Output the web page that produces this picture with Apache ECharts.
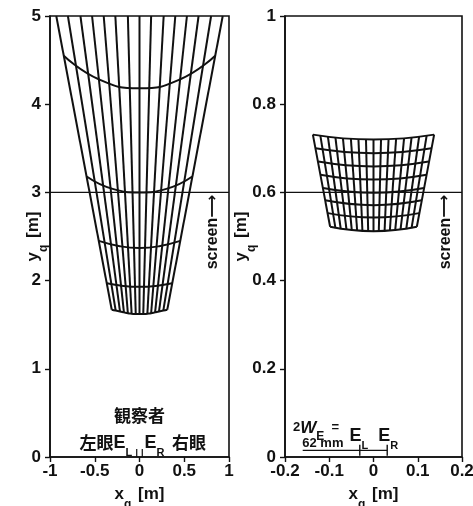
<!DOCTYPE html>
<html>
<head>
<meta charset="utf-8">
<script src="https://cdn.jsdelivr.net/npm/echarts@6.0.0/dist/echarts.min.js"></script>
<style>
  html, body { margin: 0; padding: 0; background: #fff; }
  #main { width: 473px; height: 506px; }
</style>
</head>
<body>
<div id="main"></div>
<script>
// ---- left panel (x: -1..1, y: 0..5) ----
// rays of the perceived grid: top end at y = 5, bottom end on the lowest row
const leftRayTopX = [-0.93, -0.80, -0.66, -0.53, -0.40, -0.27, -0.13, 0, 0.13, 0.27, 0.40, 0.53, 0.66, 0.80, 0.93];
const leftRayBottomX = [-0.31, -0.266, -0.218, -0.174, -0.13, -0.088, -0.042, 0, 0.042, 0.088, 0.13, 0.174, 0.218, 0.266, 0.31];
const leftRayBottomY = [1.67, 1.66, 1.65, 1.64, 1.63, 1.625, 1.62, 1.62, 1.62, 1.625, 1.63, 1.64, 1.65, 1.66, 1.67];
// rows (curved depth levels), points read left to right
const leftRows = [
  [[-0.846, 4.55], [-0.45, 4.28], [0, 4.18], [0.45, 4.28], [0.846, 4.55]],
  [[-0.59, 3.18], [-0.30, 3.04], [0, 3.0], [0.30, 3.04], [0.59, 3.18]],
  [[-0.455, 2.45], [-0.22, 2.39], [0, 2.37], [0.22, 2.39], [0.455, 2.45]],
  [[-0.366, 1.97], [-0.18, 1.94], [0, 1.93], [0.18, 1.94], [0.366, 1.97]]
];
const leftScreenY = 3;

// ---- right panel (x: -0.2..0.2, y: 0..1) ----
const rightRayTopX = [-0.137, -0.120, -0.103, -0.086, -0.069, -0.051, -0.034, -0.017, 0, 0.017, 0.034, 0.051, 0.069, 0.086, 0.103, 0.120, 0.137];
const rightRayTopY = [0.731, 0.728, 0.726, 0.724, 0.722, 0.721, 0.720, 0.720, 0.720, 0.720, 0.720, 0.721, 0.722, 0.724, 0.726, 0.728, 0.731];
const rightRayBottomX = [-0.098, -0.086, -0.074, -0.061, -0.049, -0.037, -0.025, -0.012, 0, 0.012, 0.025, 0.037, 0.049, 0.061, 0.074, 0.086, 0.098];
const rightRayBottomY = [0.522, 0.519, 0.517, 0.515, 0.514, 0.513, 0.512, 0.512, 0.512, 0.512, 0.512, 0.513, 0.514, 0.515, 0.517, 0.519, 0.522];
const rightRowEdgeX = [0.137, 0.131, 0.125, 0.120, 0.114, 0.109, 0.103, 0.098];
const rightRowEdgeY = [0.731, 0.700, 0.670, 0.640, 0.610, 0.582, 0.553, 0.522];
const rightRowCenterY = [0.720, 0.689, 0.659, 0.629, 0.599, 0.571, 0.543, 0.512];
const rightScreenY = 0.6;

// eyes (half of 2W_E = 62 mm)
const eyeX = [-0.031, 0.031];
const dimLineX = [-0.16, 0.031];
const dimLineY = 0.015;

const FONT = 'Liberation Sans, Arial, sans-serif';
const CJK = 'Noto Sans CJK JP, sans-serif';
const INK = '#111';

const chart = echarts.init(document.getElementById('main'), null, { renderer: 'canvas' });

function seg(grid, data, width, smooth) {
  return {
    type: 'line', xAxisIndex: grid, yAxisIndex: grid, data: data,
    showSymbol: false, symbol: 'none', silent: true, animation: false,
    smooth: smooth || false, clip: true,
    lineStyle: { color: INK, width: width }
  };
}

const series = [];
// left rays
leftRayTopX.forEach((xt, i) => {
  series.push(seg(0, [[leftRayBottomX[i], leftRayBottomY[i]], [xt, 5]], 2));
});
// left rows
leftRows.forEach(r => series.push(seg(0, r, 2, 0.5)));
series.push(seg(0, leftRayBottomX.map((x, i) => [x, leftRayBottomY[i]]), 2, 0.5));
// screen line
series.push(seg(0, [[-1, leftScreenY], [1, leftScreenY]], 1.3));
// eye marks (left)
eyeX.forEach(x => series.push(seg(0, [[x, 0], [x, 0.09]], 1.2)));

// right rays
rightRayTopX.forEach((xt, i) => {
  series.push(seg(1, [[rightRayBottomX[i], rightRayBottomY[i]], [xt, rightRayTopY[i]]], 2));
});
// right rows
rightRowEdgeX.forEach((ex, i) => {
  series.push(seg(1, [[-ex, rightRowEdgeY[i]], [0, rightRowCenterY[i]], [ex, rightRowEdgeY[i]]], 2, 0.5));
});
series.push(seg(1, [[-0.2, rightScreenY], [0.2, rightScreenY]], 1.3));
// dimension line 2W_E
series.push(seg(1, [[dimLineX[0], dimLineY], [dimLineX[1], dimLineY]], 1.4));
eyeX.forEach(x => series.push(seg(1, [[x, 0.003], [x, 0.028]], 1.4)));

const axisLabel = { color: INK, fontSize: 17, fontFamily: FONT, fontWeight: 'bold' };
const nameRich = {
  b: { fontSize: 17, fontFamily: FONT, fontWeight: 'bold', color: INK },
  s: { fontSize: 12, fontFamily: FONT, fontWeight: 'bold', color: INK, verticalAlign: 'bottom', padding: [0, 2, -8, 0] }
};

function xAx(grid, min, max, interval) {
  return {
    type: 'value', gridIndex: grid, min: min, max: max, interval: interval,
    name: '{b|x}{s|q}{b| [m]}', nameLocation: 'middle', nameGap: 29, nameMoveOverlap: false,
    nameTextStyle: { rich: nameRich },
    axisLine: { show: true, onZero: false, lineStyle: { color: INK, width: 1.6 } },
    axisTick: { show: true, length: 5, inside: false, lineStyle: { color: INK, width: 1.4 } },
    axisLabel: Object.assign({ margin: 6 }, axisLabel),
    splitLine: { show: false }
  };
}
function yAx(grid, min, max, interval, gap) {
  return {
    type: 'value', gridIndex: grid, min: min, max: max, interval: interval,
    name: '{b|y}{s|q}{b| [m]}', nameLocation: 'middle', nameGap: gap, nameRotate: 90, nameMoveOverlap: false,
    nameTextStyle: { rich: nameRich },
    axisLine: { show: true, onZero: false, lineStyle: { color: INK, width: 1.6 } },
    axisTick: { show: true, length: 5, inside: false, lineStyle: { color: INK, width: 1.4 } },
    axisLabel: Object.assign({ margin: 9 }, axisLabel),
    splitLine: { show: false }
  };
}

chart.setOption({
  backgroundColor: '#fff',
  animation: false,
  grid: [
    { left: 50, top: 16, width: 179, height: 441, outerBoundsMode: 'none', show: true, borderColor: INK, borderWidth: 1.6, backgroundColor: 'transparent' },
    { left: 285, top: 16, width: 177, height: 441, outerBoundsMode: 'none', show: true, borderColor: INK, borderWidth: 1.6, backgroundColor: 'transparent' }
  ],
  xAxis: [xAx(0, -1, 1, 0.5), xAx(1, -0.2, 0.2, 0.1)],
  yAxis: [yAx(0, 0, 5, 1, 8), yAx(1, 0, 1, 0.2, 35)],
  series: series
});

// text annotations placed in data coordinates
const pt = (g, x, y) => chart.convertToPixel({ gridIndex: g }, [x, y]);
const txt = (p, text, opts) => Object.assign({
  type: 'text', x: p[0], y: p[1], silent: true,
  style: Object.assign({ text: text, fill: INK, align: 'center', verticalAlign: 'middle' }, opts || {})
});
const sub = { fontSize: 11, fontFamily: FONT, fontWeight: 'bold', fill: INK, verticalAlign: 'bottom', padding: [0, 0, -7, 0] };
const big = { fontSize: 18, fontFamily: FONT, fontWeight: 'bold', fill: INK };
const cjk = { fontSize: 17, fontFamily: CJK, fontWeight: 'bold', fill: INK };
const scr = {
  t: { fontSize: 16, fontFamily: FONT, fontWeight: 'bold', fill: INK },
  a: { fontSize: 16, fontFamily: 'DejaVu Sans, sans-serif', fontWeight: 'bold', fill: INK }
};

const g = [];
const sL = pt(0, 0.82, 2.55);
g.push(Object.assign(txt(sL, '{t|screen}{a|⟶}', { rich: scr }), { rotation: Math.PI / 2 }));
const sR = pt(1, 0.162, 0.51);
g.push(Object.assign(txt(sR, '{t|screen}{a|⟶}', { rich: scr }), { rotation: Math.PI / 2 }));

g.push(txt(pt(0, 0.0, 0.47), '観察者', { font: 'bold 17px ' + CJK }));
g.push(txt(pt(0, -0.08, 0.16), '{c|左眼}{e|E}{s|L}', { align: 'right', rich: { c: cjk, e: big, s: sub } }));
g.push(txt(pt(0, 0.055, 0.16), '{e|E}{s|R}{c|  右眼}', { align: 'left', rich: { c: cjk, e: big, s: sub } }));

g.push(txt(pt(1, -0.182, 0.066), '{n|2}{w|W}{s|E}{n|  =}', {
  align: 'left',
  rich: {
    n: { fontSize: 13, fontFamily: FONT, fontWeight: 'bold', fill: INK },
    w: { fontSize: 17, fontFamily: FONT, fontWeight: 'bold', fontStyle: 'italic', fill: INK },
    s: { fontSize: 12, fontFamily: FONT, fontWeight: 'bold', fill: INK, verticalAlign: 'bottom', padding: [0, 0, -6, 0] }
  }
}));
g.push(txt(pt(1, -0.161, 0.031), '62 mm', { align: 'left', font: 'bold 13px ' + FONT }));
g.push(txt(pt(1, -0.054, 0.048), '{e|E}{s|L}', { align: 'left', rich: { e: big, s: sub } }));
g.push(txt(pt(1, 0.011, 0.048), '{e|E}{s|R}', { align: 'left', rich: { e: big, s: sub } }));

chart.setOption({ graphic: g });
</script>
</body>
</html>
